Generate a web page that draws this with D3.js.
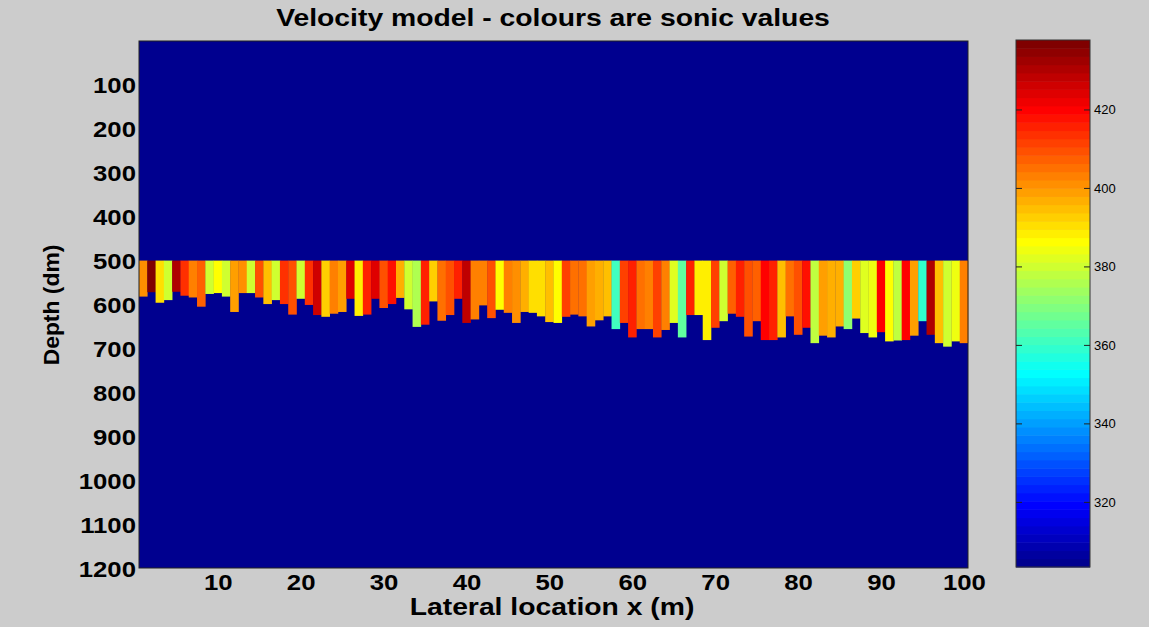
<!DOCTYPE html>
<html><head><meta charset="utf-8">
<script src="https://cdn.jsdelivr.net/npm/d3@7"></script>
<style>body{margin:0;background:#cccccc;} svg{display:block}</style>
</head><body><svg id="c" width="1149" height="627"></svg>
<script>
// ---- data ----
const columns = d3.range(1, 101);
const sonic = [
 401,436,390,380,431,413,404,407,380,386, 380,399,402,380,409,395,380,413,409,379,
 413,426,393,404,399,424,388,415,424,409, 417,397,380,376,416,393,406,410,416,428,
 404,404,409,386,404,402,397,391,390,395, 387,411,406,406,399,397,395,362,411,416,
 405,404,412,404,382,366,416,388,388,411, 381,407,416,410,408,420,415,395,405,409,
 418,378,399,397,397,372,393,383,385,420, 386,377,420,399,358,430,395,379,385,404
];
const baseDepth = [
 582,572,596,590,571,580,584,605,576,574, 582,617,574,574,584,599,590,599,623,587,
 601,624,628,621,617,587,626,623,587,608, 599,585,611,651,646,593,637,624,587,642,
 634,602,631,612,619,642,617,619,627,640, 642,628,623,627,650,636,627,656,642,675,
 656,656,675,658,642,675,624,624,681,653, 638,621,628,673,638,681,681,675,627,669,
 653,688,671,675,650,656,632,665,675,663, 684,682,681,671,638,669,688,696,684,688
];
const topDepth = 500;
const xTicks = [10,20,30,40,50,60,70,80,90,100];
const yTicks = [100,200,300,400,500,600,700,800,900,1000,1100,1200];
const cbTicks = [320,340,360,380,400,420];
const cRange = [303.4, 437.7];

// ---- jet colormap (MATLAB jet(64)) ----
const M = 64, N = 16;
function u(j){ if (j<1||j>47) return 0; if (j<=16) return j/N; if (j<=31) return 1; return (48-j)/N; }
function jetRow(row){ // row 1..64
  const r = (row-24>=1 && row-24<=40) ? u(row-24) : 0;
  const g = u(row-8);
  const b = (row+8<=47) ? u(row+8) : 0;
  return d3.rgb(Math.round(r*255), Math.round(g*255), Math.round(b*255)).toString();
}
function colorOf(v){
  let idx = Math.floor((v-cRange[0])/(cRange[1]-cRange[0])*M)+1;
  idx = Math.max(1, Math.min(M, idx));
  return jetRow(idx);
}

const svg = d3.select("#c");
const W = 1149, H = 627;
svg.append("rect").attr("width",W).attr("height",H).attr("fill","#cccccc");

const x = d3.scaleLinear().domain([0.5,100.5]).range([139,968]);
const y = d3.scaleLinear().domain([0,1200]).range([41,568]);

const font = "'Liberation Sans', Arial, sans-serif";

const plot = svg.append("g");
plot.append("rect").attr("x",x(0.5)).attr("y",y(0)).attr("width",x(100.5)-x(0.5)).attr("height",y(1200)-y(0))
  .attr("fill", jetRow(1));
plot.selectAll("rect.cell").data(columns).join("rect").attr("class","cell")
  .attr("x", d=>x(d-0.5)).attr("width", d=>x(d+0.5)-x(d-0.5)+0.3)
  .attr("y", y(topDepth)).attr("height", (d,i)=>y(baseDepth[i])-y(topDepth))
  .attr("fill", (d,i)=>colorOf(sonic[i]));
plot.append("rect").attr("x",x(0.5)).attr("y",y(0)).attr("width",x(100.5)-x(0.5)).attr("height",y(1200)-y(0))
  .attr("fill","none").attr("stroke","#222").attr("stroke-width",1);

function label(g, tx, ty, text, size, anchor, sx, rot){
  return g.append("text").attr("transform", `translate(${tx},${ty})${rot?` rotate(${rot})`:""} scale(${sx},1)`)
    .attr("font-family", font).attr("font-size", size).attr("font-weight", "bold")
    .attr("text-anchor", anchor).attr("fill","#000").text(text);
}

const yAxis = svg.append("g").attr("transform","translate(139,0)")
  .call(d3.axisLeft(y).tickValues(yTicks).tickSize(0));
yAxis.select(".domain").remove();
yAxis.selectAll("text").remove();
yAxis.selectAll(".tick").each(function(d){
  label(d3.select(this), -3, 8, d, 22, "end", 1.17);
});
const xAxis = svg.append("g").attr("transform","translate(0,568)")
  .call(d3.axisBottom(x).tickValues(xTicks).tickSize(0));
xAxis.select(".domain").remove();
xAxis.selectAll("text").remove();
xAxis.selectAll(".tick").each(function(d){
  label(d3.select(this), 0, 22, d, 22, "middle", 1.17);
});

label(svg, 553, 26, "Velocity model - colours are sonic values", 24, "middle", 1.18);
label(svg, 552, 615, "Lateral location x (m)", 24, "middle", 1.18);
label(svg, 59, 305, "Depth (dm)", 22, "middle", 1.04, -90);

// colorbar
const cb = {x0:1016, x1:1090, y0:40, y1:567};
const cy = d3.scaleLinear().domain(cRange).range([cb.y1, cb.y0]);
const rows = d3.range(1, M+1);
const step = (cRange[1]-cRange[0])/M;
svg.append("g").selectAll("rect").data(rows).join("rect")
  .attr("x", cb.x0).attr("width", cb.x1-cb.x0)
  .attr("y", r=>cy(cRange[0]+r*step)).attr("height", r=>cy(cRange[0]+(r-1)*step)-cy(cRange[0]+r*step)+0.5)
  .attr("fill", r=>jetRow(r));
svg.append("rect").attr("x",cb.x0).attr("y",cb.y0).attr("width",cb.x1-cb.x0).attr("height",cb.y1-cb.y0)
  .attr("fill","none").attr("stroke","#333").attr("stroke-width",1);
const cbAxis = svg.append("g").attr("transform",`translate(${cb.x1},0)`)
  .call(d3.axisRight(cy).tickValues(cbTicks).tickSize(-6).tickPadding(4));
cbAxis.select(".domain").remove();
cbAxis.selectAll("line").attr("stroke","#222");
cbAxis.selectAll("text").attr("font-family",font).attr("font-size",13).attr("fill","#000");
svg.append("g").attr("transform",`translate(${cb.x0},0)`)
  .call(d3.axisLeft(cy).tickValues(cbTicks).tickSize(-6).tickFormat(""))
  .call(g=>g.select(".domain").remove()).selectAll("line").attr("stroke","#222");
</script></body></html>
